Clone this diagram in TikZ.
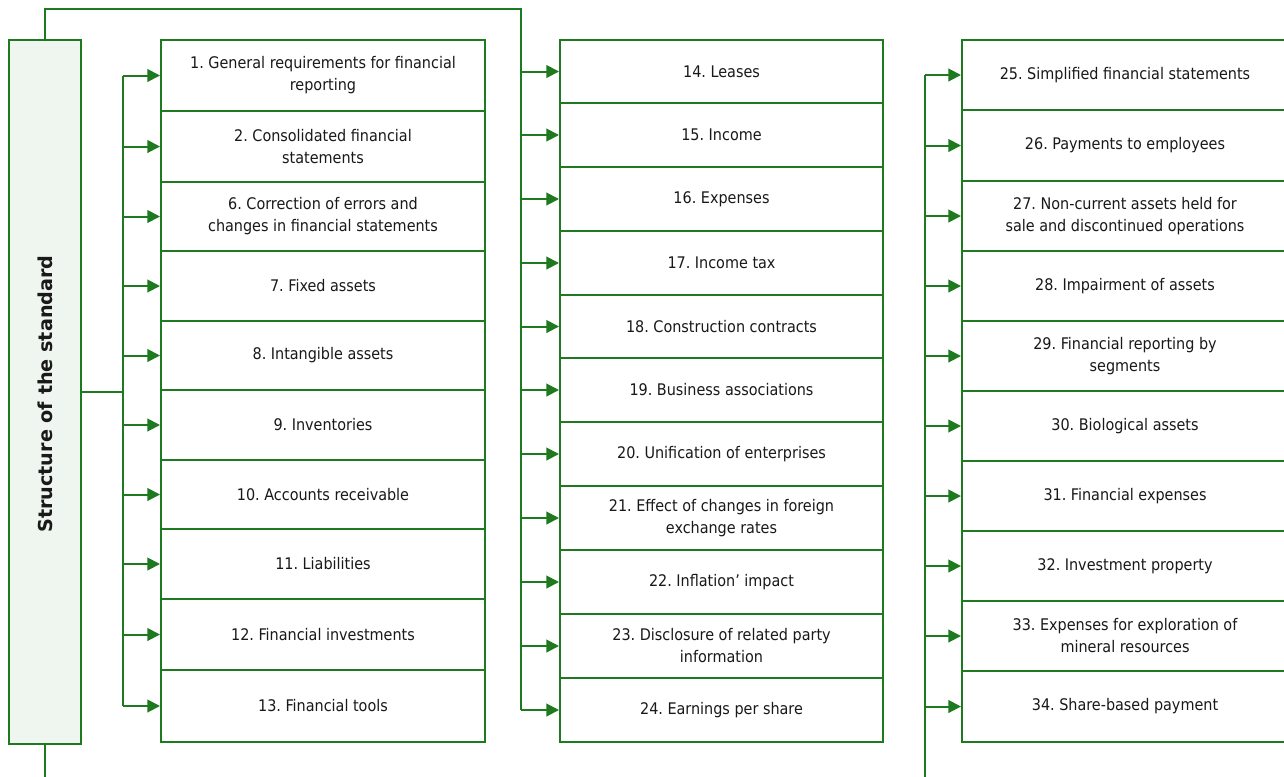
\documentclass[tikz,border=0pt]{standalone}
\usepackage{fontspec}
\setmainfont{DejaVu Sans Condensed}
\newfontfamily\titlefont{DejaVu Sans}
\usetikzlibrary{arrows.meta}
\definecolor{grn}{RGB}{30,122,30}
\definecolor{sidefill}{RGB}{239,245,239}
\definecolor{txt}{RGB}{25,25,25}
\frenchspacing
% #1 style, #2 name, #3 centre x, #4 top y, #5 bottom y, #6 text
\newcommand\mkbox[6]{\node[#1,minimum height={(#5-#4)*0.75pt}] (#2) at (#3,{(#4+#5)/2}) {#6};}
\begin{document}
\begin{tikzpicture}[x=0.75pt,y=-0.75pt,
  ln/.style={draw=grn,line width=1.5pt},
  arr/.style={ln,-{Triangle[length=9.5pt,width=9.5pt]}},
  box/.style={draw=grn,line width=1.5pt,fill=white,align=center,inner sep=0pt,
    text=txt,font=\fontsize{12}{16.5}\selectfont},
  lbox/.style={box,minimum width=243pt},
  mbox/.style={box,minimum width=242.25pt},
  rbox/.style={box,minimum width=244.5pt},
  sidebox/.style={draw=grn,line width=1.5pt,fill=sidefill,minimum width=54pt,minimum height=528pt,inner sep=0pt},
  titletext/.style={rotate=90,font=\titlefont\bfseries\fontsize{14.4}{17}\selectfont,text=txt}
]
\useasboundingbox (0,0) rectangle (1284,776);
\clip (0,0) rectangle (1284,776);
\fill[white] (0,0) rectangle (1284,776);

% side bar
\node[sidebox] (side) at (45,392) {};
\node[titletext] (title) at (45,394) {Structure of the standard};

% left column
\mkbox{lbox}{l1}{323}{40}{111}{1. General requirements for financial\\reporting}
\mkbox{lbox}{l2}{323}{111}{182}{2. Consolidated financial\\statements}
\mkbox{lbox}{l6}{323}{182}{251}{6. Correction of errors and\\changes in financial statements}
\mkbox{lbox}{l7}{323}{251}{321}{7. Fixed assets}
\mkbox{lbox}{l8}{323}{321}{390}{8. Intangible assets}
\mkbox{lbox}{l9}{323}{390}{460}{9. Inventories}
\mkbox{lbox}{l10}{323}{460}{529}{10. Accounts receivable}
\mkbox{lbox}{l11}{323}{529}{599}{11. Liabilities}
\mkbox{lbox}{l12}{323}{599}{670}{12. Financial investments}
\mkbox{lbox}{l13}{323}{670}{742}{13. Financial tools}

% middle column
\mkbox{mbox}{m14}{721.5}{40}{103}{14. Leases}
\mkbox{mbox}{m15}{721.5}{103}{167}{15. Income}
\mkbox{mbox}{m16}{721.5}{167}{231}{16. Expenses}
\mkbox{mbox}{m17}{721.5}{231}{295}{17. Income tax}
\mkbox{mbox}{m18}{721.5}{295}{358}{18. Construction contracts}
\mkbox{mbox}{m19}{721.5}{358}{422}{19. Business associations}
\mkbox{mbox}{m20}{721.5}{422}{486}{20. Unification of enterprises}
\mkbox{mbox}{m21}{721.5}{486}{550}{21. Effect of changes in foreign\\exchange rates}
\mkbox{mbox}{m22}{721.5}{550}{614}{22. Inflation’ impact}
\mkbox{mbox}{m23}{721.5}{614}{678}{23. Disclosure of related party\\information}
\mkbox{mbox}{m24}{721.5}{678}{742}{24. Earnings per share}

% right column
\mkbox{rbox}{r25}{1125}{40}{110}{25. Simplified financial statements}
\mkbox{rbox}{r26}{1125}{110}{181}{26. Payments to employees}
\mkbox{rbox}{r27}{1125}{181}{251}{27. Non-current assets held for\\sale and discontinued operations}
\mkbox{rbox}{r28}{1125}{251}{321}{28. Impairment of assets}
\mkbox{rbox}{r29}{1125}{321}{391}{29. Financial reporting by\\segments}
\mkbox{rbox}{r30}{1125}{391}{461}{30. Biological assets}
\mkbox{rbox}{r31}{1125}{461}{531}{31. Financial expenses}
\mkbox{rbox}{r32}{1125}{531}{601}{32. Investment property}
\mkbox{rbox}{r33}{1125}{601}{671}{33. Expenses for exploration of\\mineral resources}
\mkbox{rbox}{r34}{1125}{671}{742}{34. Share-based payment}

% bus coordinates
\coordinate (lbus) at (123,0);
\coordinate (mtop) at (521,9);
\coordinate (rbus) at (925,0);
\coordinate (rend) at (925,790);
\coordinate (send) at (45,790);

% left bus
\draw[ln] (side.east) -- (side.east -| lbus);
\draw[ln] (l1.west -| lbus) -- (l13.west -| lbus);
\foreach \n in {l1,l2,l6,l7,l8,l9,l10,l11,l12,l13}
  \draw[arr] (\n.west -| lbus) -- (\n.west);

% middle bus
\draw[ln] (side.north) |- (mtop) -- (m24.west -| mtop);
\foreach \n in {m14,m15,m16,m17,m18,m19,m20,m21,m22,m23,m24}
  \draw[arr] (\n.west -| mtop) -- (\n.west);

% right bus
\draw[ln] (r25.west -| rbus) -- (rend);
\foreach \n in {r25,r26,r27,r28,r29,r30,r31,r32,r33,r34}
  \draw[arr] (\n.west -| rbus) -- (\n.west);

% bottom stub
\draw[ln] (side.south) -- (send);
\end{tikzpicture}
\end{document}
